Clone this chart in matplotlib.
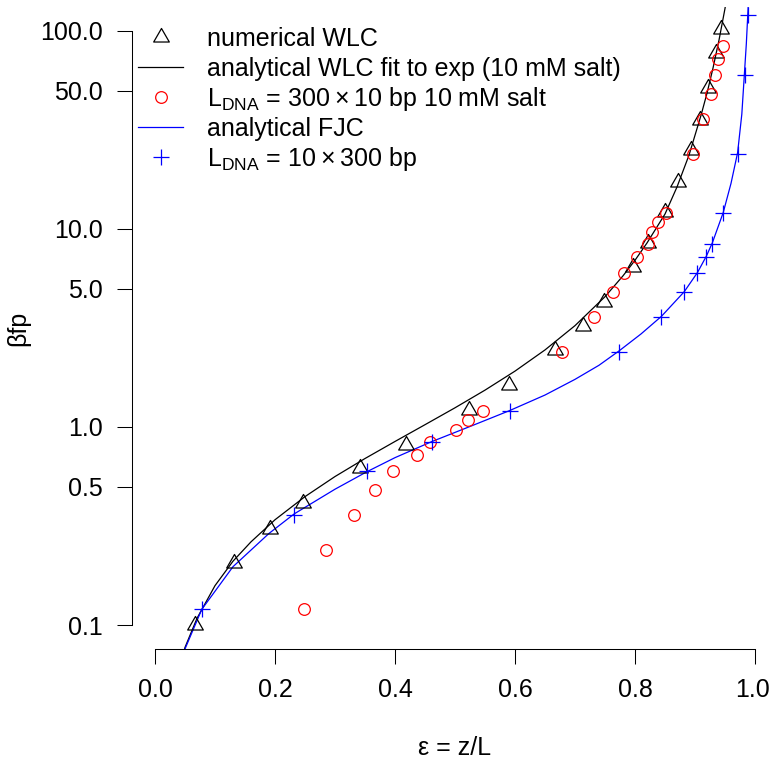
import matplotlib.pyplot as plt
from matplotlib.lines import Line2D
from matplotlib.path import Path
from matplotlib.transforms import ScaledTranslation

plt.rcParams['font.family'] = ['Liberation Sans', 'DejaVu Sans']
plt.rcParams['mathtext.fontset'] = 'custom'
plt.rcParams['mathtext.rm'] = 'Liberation Sans'
plt.rcParams['mathtext.it'] = 'Liberation Sans:italic'
plt.rcParams['font.size'] = 18

# === Data ===
# numerical WLC (triangles)
wlc_num_eps = [0.067, 0.131, 0.191, 0.246, 0.342, 0.418, 0.524, 0.590, 0.667, 0.713,
               0.748, 0.797, 0.822, 0.850, 0.872, 0.893, 0.908, 0.922, 0.935, 0.943]
wlc_num_f = [0.10, 0.205, 0.304, 0.412, 0.618, 0.815, 1.22, 1.63, 2.45, 3.25,
             4.26, 6.45, 8.53, 12.2, 17.3, 25.1, 35.5, 51.4, 77.1, 102]

# analytical WLC fit (black line)
wlc_fit_eps = [0.045, 0.05, 0.07, 0.10, 0.13, 0.16, 0.20, 0.25, 0.30, 0.35,
               0.40, 0.45, 0.50, 0.55, 0.60, 0.65, 0.70, 0.75, 0.78, 0.80,
               0.82, 0.85, 0.87, 0.89, 0.91, 0.92, 0.93, 0.94, 0.95, 0.955]
wlc_fit_f = [0.068, 0.077, 0.108, 0.158, 0.21, 0.263, 0.34, 0.445, 0.562, 0.693,
             0.845, 1.027, 1.25, 1.535, 1.915, 2.45, 3.25, 4.55, 5.8, 6.95,
             8.5, 11.9, 16.3, 23.6, 37.5, 48.5, 65, 90, 130, 165]

# L_DNA = 300 x 10 bp, 10 mM salt (red circles)
seg10_eps = [0.249, 0.285, 0.331, 0.366, 0.397, 0.437, 0.459, 0.502, 0.522, 0.546,
             0.678, 0.732, 0.764, 0.782, 0.803, 0.821, 0.829, 0.839, 0.852,
             0.896, 0.914, 0.926, 0.933, 0.939, 0.946]
seg10_f = [0.12, 0.24, 0.36, 0.48, 0.60, 0.72, 0.84, 0.96, 1.08, 1.2,
           2.4, 3.6, 4.8, 6.0, 7.2, 8.4, 9.6, 10.8, 12.0,
           24, 36, 48, 60, 72, 84]

# analytical FJC (blue line)
fjc_eps = [0.04, 0.05, 0.078, 0.13, 0.19, 0.232, 0.30, 0.353, 0.40, 0.461,
           0.53, 0.591, 0.65, 0.70, 0.74, 0.774, 0.81, 0.844, 0.882, 0.904,
           0.919, 0.929, 0.947, 0.960, 0.971, 0.978, 0.9855, 0.988, 0.9895]
fjc_f = [0.06, 0.0757, 0.12, 0.197, 0.29, 0.364, 0.485, 0.594, 0.70, 0.843,
         1.02, 1.21, 1.45, 1.74, 2.05, 2.43, 2.95, 3.62, 4.82, 6.02,
         7.3, 8.53, 12.1, 17, 24.3, 38, 86, 122, 150]

# L_DNA = 10 x 300 bp (blue pluses)
seg300_eps = [0.078, 0.232, 0.353, 0.461, 0.591, 0.774, 0.844, 0.882, 0.904,
              0.919, 0.929, 0.947, 0.971, 0.983, 0.988]
seg300_f = [0.12, 0.36, 0.60, 0.84, 1.2, 2.4, 3.6, 4.8, 6.0,
            7.2, 8.4, 12.0, 24, 60, 120]

y_ticks = [0.1, 0.5, 1.0, 5.0, 10.0, 50.0, 100.0]
y_tick_labels = ['0.1', '0.5', '1.0', '5.0', '10.0', '50.0', '100.0']
x_ticks = [0.0, 0.2, 0.4, 0.6, 0.8, 1.0]
x_tick_labels = ['0.0', '0.2', '0.4', '0.6', '0.8', '1.0']

# === Figure ===
W, H = 769, 767
fig = plt.figure(figsize=(W / 100, H / 100), dpi=100)


def fx(px):
    return px / W


def fy(py):
    return 1 - py / H


ax = fig.add_axes([fx(131.7), fy(649.3), (W - 131.7) / W, (649.3 - 7) / H])
ax.set_yscale('log')
ax.set_xlim(-0.0388, 1.0233)
ax.set_ylim(10 ** -1.1227, 10 ** 2.121)

# R style triangle (centroid at the point)
tri = Path([(0, 1), (-0.866, -0.5), (0.866, -0.5), (0, 1)],
           [Path.MOVETO, Path.LINETO, Path.LINETO, Path.CLOSEPOLY])

lw = 0.9
tri_style = dict(linestyle='none', marker=tri, ms=13, mfc='none', mec='black', mew=lw)
circ_style = dict(linestyle='none', marker='o', ms=8.4, mfc='none', mec='#ff0000', mew=lw)
plus_style = dict(linestyle='none', marker='+', ms=12, mec='#0000ff', mew=lw)

ax.plot(wlc_fit_eps, wlc_fit_f, color='black', lw=lw)
ax.plot(fjc_eps, fjc_f, color='#0000ff', lw=lw)
ax.plot(wlc_num_eps, wlc_num_f, **tri_style)
ax.plot(seg10_eps, seg10_f, **circ_style)
ax.plot(seg300_eps, seg300_f, **plus_style)

# axes in R style: no box, axis lines only between first and last tick
for s in ['top', 'right']:
    ax.spines[s].set_visible(False)
ax.spines['left'].set_bounds(0.1, 100)
ax.spines['bottom'].set_bounds(0, 1)
ax.spines['left'].set_linewidth(0.75)
ax.spines['bottom'].set_linewidth(0.75)

ax.set_yticks(y_ticks)
ax.set_yticklabels(y_tick_labels)
ax.minorticks_off()
ax.set_xticks(x_ticks)
ax.set_xticklabels(x_tick_labels)
ax.tick_params(axis='both', direction='out', length=10.8, width=0.75, labelsize=18)
ax.tick_params(axis='y', pad=10)
ax.tick_params(axis='x', pad=10)

fig.text(fx(455), fy(748), 'ε = z/L', ha='center', va='center', fontsize=18)
fig.text(fx(18), fy(328), 'βfp', ha='center', va='center', rotation=90, fontsize=18)

# === Legend (R style, no frame) ===
legend_labels = ['numerical WLC',
                 'analytical WLC fit to exp (10 mM salt)',
                 'L$_{\\mathrm{DNA}}$ = 300\u2009×\u200910 bp 10 mM salt',
                 'analytical FJC',
                 'L$_{\\mathrm{DNA}}$ = 10\u2009×\u2009300 bp']
legend_keys = [('m', tri_style), ('l', dict(color='black', lw=lw)),
               ('m', circ_style), ('l', dict(color='#0000ff', lw=lw)),
               ('m', plus_style)]
row0, row_step = 37, 30
for i, (lab, (kind, st)) in enumerate(zip(legend_labels, legend_keys)):
    yy = row0 + i * row_step
    if kind == 'm':
        fig.add_artist(Line2D([fx(161)], [fy(yy)], transform=fig.transFigure, **st))
    else:
        fig.add_artist(Line2D([fx(138), fx(183)], [fy(yy), fy(yy)],
                              transform=fig.transFigure, **st))
    fig.text(fx(207), fy(yy + 9), lab, ha='left', va='baseline', fontsize=18)

# keep the last x tick label inside the canvas
last = ax.xaxis.get_major_ticks()[-1].label1
last.set_transform(last.get_transform() + ScaledTranslation(-3 / 100, 0, fig.dpi_scale_trans))

fig.savefig('out.png', dpi=100)
